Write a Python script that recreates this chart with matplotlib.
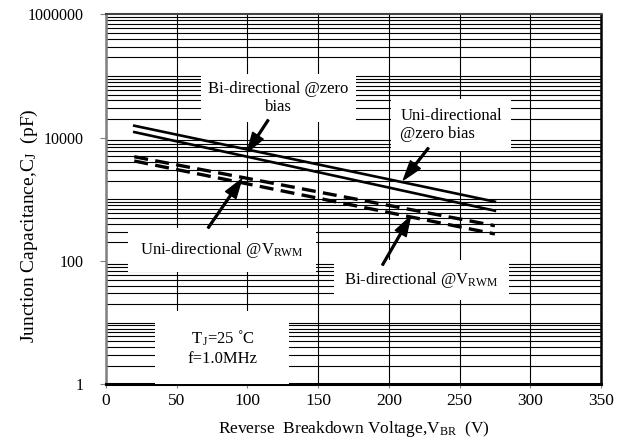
import matplotlib
matplotlib.use("Agg")
import matplotlib.pyplot as plt
from matplotlib.ticker import FixedLocator, LogLocator, NullFormatter

plt.rcParams['font.family'] = ['Liberation Serif', 'DejaVu Serif']
plt.rcParams['mathtext.fontset'] = 'custom'
plt.rcParams['mathtext.rm'] = 'Liberation Serif'

# Reverse breakdown voltage (V) and junction capacitance (pF)
v_br = [20, 275]
uni_zero = [15600, 915]
bi_zero = [12300, 653]
uni_vrwm = [4900, 373]
bi_vrwm = [4180, 274]

x_ticks = [0, 50, 100, 150, 200, 250, 300, 350]
y_ticks = [1, 100, 10000, 1000000]

fig = plt.figure(figsize=(6.17, 4.45), dpi=100)
ax = fig.add_axes([0.1718, 0.1364, 0.8022, 0.8315])

ax.set_yscale('log')
ax.set_xlim(0, 350)
ax.set_ylim(1, 1e6)

# grid
ax.yaxis.set_major_locator(FixedLocator(y_ticks))
ax.yaxis.set_minor_locator(LogLocator(base=10, subs=range(1, 10), numticks=20))
ax.yaxis.set_minor_formatter(NullFormatter())
ax.set_yticklabels([str(v) for v in y_ticks])
ax.set_xticks(x_ticks)
ax.grid(axis='y', which='minor', color='black', lw=0.8, zorder=0)
ax.grid(axis='x', which='major', color='black', lw=0.8, zorder=0)
ax.set_axisbelow(True)

ax.tick_params(axis='y', which='minor', length=0)
ax.tick_params(axis='y', which='major', length=4, color='gray', direction='out',
               labelsize=11.5, pad=12)
ax.tick_params(axis='x', length=3, color='gray', direction='out', labelsize=12.5)

ax.spines['left'].set_color('gray')
ax.spines['left'].set_linewidth(1.8)
ax.spines['bottom'].set_linewidth(2.2)
ax.spines['right'].set_linewidth(1.8)
ax.spines['top'].set_color('#444444')
ax.spines['top'].set_linewidth(1.5)

# curves
ax.plot(v_br, uni_zero, color='black', lw=1.9, zorder=3)
ax.plot(v_br, bi_zero, color='black', lw=1.9, zorder=3)
ax.plot(v_br, uni_vrwm, color='black', lw=2.4, ls=(0, (4.2, 2.2)), zorder=3)
ax.plot(v_br, bi_vrwm, color='black', lw=2.4, ls=(0, (4.2, 2.2)), zorder=3)

# labels with white boxes
ax.text(121.8, 44000, 'Bi-directional @zero\nbias', ha='center', va='center',
        fontsize=12, linespacing=1.1,
        bbox=dict(facecolor='white', edgecolor='none', boxstyle='square,pad=0.45'), zorder=5)
ax.text(208, 16000, 'Uni-directional\n@zero bias', ha='left', va='center',
        fontsize=12, linespacing=1.15,
        bbox=dict(facecolor='white', edgecolor='none', boxstyle='square,pad=0.55'), zorder=5)
ax.text(82, 151, 'Uni-directional @V$\\mathregular{_{RWM}}$', ha='center', va='center',
        fontsize=12,
        bbox=dict(facecolor='white', edgecolor='none', boxstyle='square,pad=0.7'), zorder=5)
ax.text(223, 49, 'Bi-directional @V$\\mathregular{_{RWM}}$', ha='center', va='center',
        fontsize=12,
        bbox=dict(facecolor='white', edgecolor='none', boxstyle='square,pad=0.6'), zorder=5)
ax.text(82, 3.9, '     T$\\mathregular{_J}$=25 \u02daC     \nf=1.0MHz', ha='center', va='center',
        fontsize=12, linespacing=1.3,
        bbox=dict(facecolor='white', edgecolor='none', boxstyle='square,pad=1.0'), zorder=5)

# arrows
arrow = dict(facecolor='black', edgecolor='black', width=1.3, headwidth=9, headlength=14, shrink=0)
ax.annotate('', xy=(99.9, 5850), xytext=(114.7, 19300), arrowprops=arrow, zorder=6)
ax.annotate('', xy=(210.3, 2060), xytext=(228, 6790), arrowprops=arrow, zorder=6)
ax.annotate('', xy=(96, 2130), xytext=(72.2, 343), arrowprops=arrow, zorder=6)
ax.annotate('', xy=(215.3, 523), xytext=(195.5, 86), arrowprops=arrow, zorder=6)

ax.set_xlabel('Reverse  Breakdown Voltage,V$\\mathregular{_{BR}}$  (V)', fontsize=12.5, labelpad=7)
ax.set_ylabel('Junction Capacitance,C$\\mathregular{_J}$  (pF)', fontsize=14)
ax.yaxis.set_label_coords(-0.133, 0.43)

fig.savefig('out.png', dpi=100)
